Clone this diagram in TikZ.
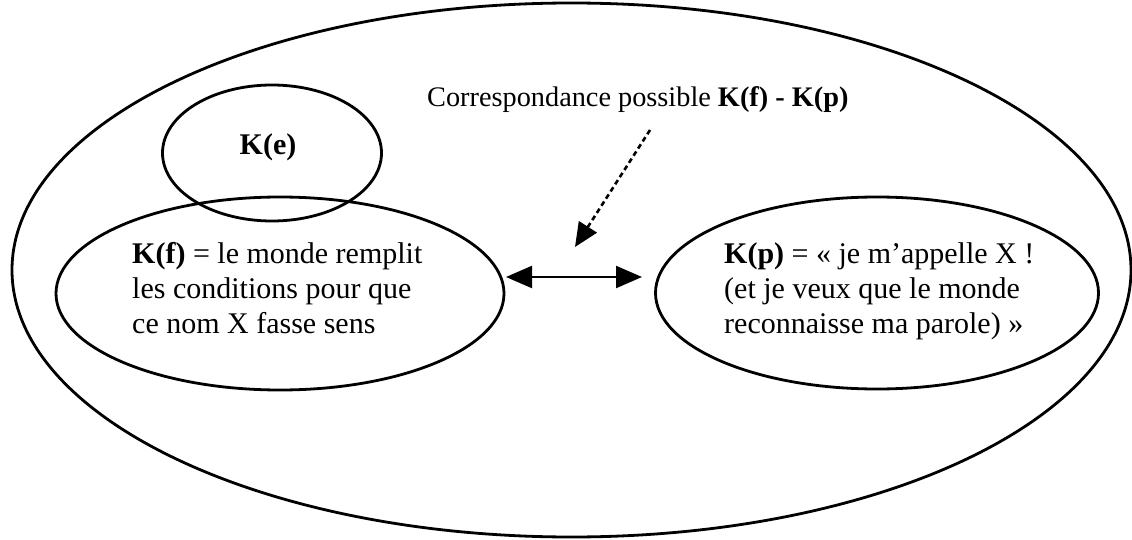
\documentclass[tikz,border=0pt]{standalone}
\usepackage{fontspec}
\setmainfont{Liberation Serif}
\usetikzlibrary{shapes.geometric,arrows.meta}
\tikzset{
	zone/.style={draw, ellipse, line width=2.8pt, inner sep=0pt},
	ktext/.style={font=\fontsize{30}{35}\selectfont, align=left, inner sep=0pt},
	pointe/.tip={Triangle[length=26pt,width=22pt]},
}
\begin{document}
\begin{tikzpicture}[x=1pt, y=-1pt]
	\useasboundingbox (0,0) rectangle (1132,540);
	\node[zone, minimum width=1119pt, minimum height=534pt] (monde) at (571.5,270) {};
	\node[zone, minimum width=219pt, minimum height=136pt] (ke) at (272,153) {};
	\node[ktext] (ketext) at (268,147) {\textbf{K(e)}};
	\node[zone, minimum width=448pt, minimum height=193pt] (kf) at (280,293.5) {};
	\node[ktext, anchor=base west] (kftext) at (132,333) {\textbf{K(f)} = le monde remplit\\les conditions pour que\\ce nom X fasse sens};
	\node[zone, minimum width=443pt, minimum height=192pt] (kp) at (877,293) {};
	\node[ktext, anchor=base west] (kptext) at (724,333) {\textbf{K(p)} = «~je m’appelle X~!\\(et je veux que le monde\\reconnaisse ma parole)~»};
	\node[font=\fontsize{28.3}{34}\selectfont, inner sep=0pt, anchor=base west] (corresp) at (427,107) {Correspondance possible \textbf{K(f) - K(p)}};
	\coordinate (dg) at (506,277);
	\coordinate (dd) at (642,277);
	\coordinate (ps) at (650,130);
	\coordinate (pe) at (575,247);
	\draw[line width=2.2pt, pointe-pointe] (dg) -- (dd);
	\draw[line width=2.6pt, dash pattern=on 5pt off 3.5pt, -{Triangle[length=24pt,width=21pt]}] (ps) -- (pe);
\end{tikzpicture}
\end{document}
